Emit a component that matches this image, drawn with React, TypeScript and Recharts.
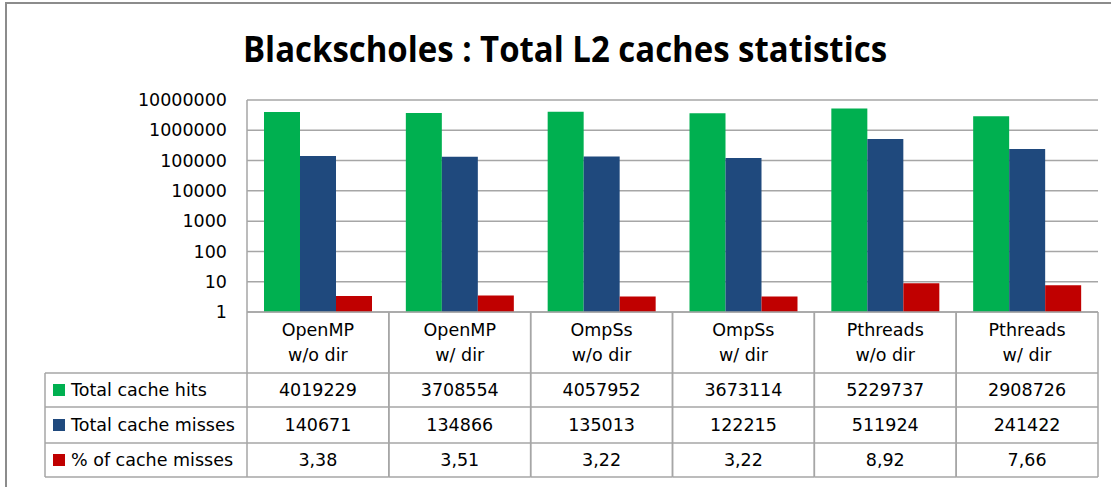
import React from 'react';
import { BarChart, Bar, XAxis, YAxis, CartesianGrid } from 'recharts';

const catLine1 = ['OpenMP', 'OpenMP', 'OmpSs', 'OmpSs', 'Pthreads', 'Pthreads'];
const catLine2 = ['w/o dir', 'w/ dir', 'w/o dir', 'w/ dir', 'w/o dir', 'w/ dir'];
const totalHits = [4019229, 3708554, 4057952, 3673114, 5229737, 2908726];
const totalMisses = [140671, 134866, 135013, 122215, 511924, 241422];
const pctMisses = [3.38, 3.51, 3.22, 3.22, 8.92, 7.66];
const yTicks = [1, 10, 100, 1000, 10000, 100000, 1000000, 10000000];
const seriesNames = ['Total cache hits', 'Total cache misses', '% of cache misses'];
const seriesColors = ['#00B050', '#1F497D', '#C00000'];
const title = 'Blackscholes : Total L2 caches statistics';

const data = catLine1.map((c, i) => ({
  cat: c + ' ' + catLine2[i],
  hits: totalHits[i],
  misses: totalMisses[i],
  pct: pctMisses[i],
}));

const fmtPct = (v: number) => v.toFixed(2).replace('.', ',');

const W = 1111;
const H = 487;
const PLOT_LEFT = 247;
const PLOT_RIGHT = 1098;
const PLOT_TOP = 100;
const PLOT_BOTTOM = 312;
const COL_W = (PLOT_RIGHT - PLOT_LEFT) / catLine1.length;
const ROW_Y = [373, 407, 443, 477];
const LINE = '#a6a6a6';
const FONT = 'DejaVu Sans, Verdana, sans-serif';
const FS = 17.5;

const TableTick = (props: any) => {
  const { x, y, index } = props;
  const half = COL_W / 2;
  const rowVals = [String(totalHits[index]), String(totalMisses[index]), fmtPct(pctMisses[index])];
  const yy = ROW_Y.map((r) => r - PLOT_BOTTOM + y);
  return (
    <g>
      <line x1={x - half} x2={x - half} y1={y} y2={yy[3]} stroke={LINE} strokeWidth={1.5} />
      <line x1={x + half} x2={x + half} y1={y} y2={yy[3]} stroke={LINE} strokeWidth={1.5} />
      {yy.map((r, k) => (
        <line key={k} x1={x - half} x2={x + half} y1={r} y2={r} stroke={LINE} strokeWidth={1.5} />
      ))}
      <text x={x} y={y + 18} dy="0.355em" textAnchor="middle" fontSize={FS} fontFamily={FONT} fill="#000">
        {catLine1[index]}
      </text>
      <text x={x} y={y + 43} dy="0.355em" textAnchor="middle" fontSize={FS} fontFamily={FONT} fill="#000">
        {catLine2[index]}
      </text>
      {rowVals.map((v, k) => (
        <text key={k} x={x} y={(yy[k] + yy[k + 1]) / 2} dy="0.355em" textAnchor="middle" fontSize={FS} fontFamily={FONT} fill="#000">
          {v}
        </text>
      ))}
    </g>
  );
};

export default function App() {
  return (
    <div style={{ position: 'absolute', left: 0, top: 0, width: W, height: H, background: '#fff', overflow: 'hidden' }}>
      <div style={{ position: 'absolute', left: 0, top: 0 }}>
        <BarChart
          width={W}
          height={H}
          data={data}
          margin={{ top: PLOT_TOP, right: W - PLOT_RIGHT, bottom: 0, left: PLOT_LEFT - 100 }}
          barCategoryGap={17}
          barGap={0}
        >
          <CartesianGrid horizontal={true} vertical={false} stroke={LINE} strokeWidth={1.5} strokeDasharray="" />
          <XAxis
            dataKey="cat"
            height={H - PLOT_BOTTOM}
            tickLine={false}
            tickSize={0}
            tickMargin={0}
            axisLine={{ stroke: LINE, strokeWidth: 1.5 }}
            interval={0}
            tick={<TableTick />}
          />
          <YAxis
            type="number"
            scale="log"
            domain={[1, 10000000]}
            allowDataOverflow
            ticks={yTicks}
            interval={0}
            width={100}
            tickLine={false}
            tickSize={0}
            tickMargin={20}
            axisLine={{ stroke: LINE, strokeWidth: 1.5 }}
            tick={{ fontSize: FS, fill: '#000', fontFamily: FONT }}
            tickFormatter={(v: number) => String(v)}
          />
          <Bar dataKey="hits" name={seriesNames[0]} fill={seriesColors[0]} isAnimationActive={false} />
          <Bar dataKey="misses" name={seriesNames[1]} fill={seriesColors[1]} isAnimationActive={false} />
          <Bar dataKey="pct" name={seriesNames[2]} fill={seriesColors[2]} isAnimationActive={false} />
        </BarChart>
      </div>
      <svg width={W} height={H} style={{ position: 'absolute', left: 0, top: 0, pointerEvents: 'none' }}>
        <line x1={6} x2={6} y1={2} y2={H} stroke="#8c8c8c" strokeWidth={2} />
        <line x1={5} x2={W} y1={3} y2={3} stroke="#8c8c8c" strokeWidth={2} />
        <text x={565} y={62} textAnchor="middle" fontFamily="Open Sans, sans-serif" fontWeight={700} fontSize={36} textLength={644} lengthAdjust="spacingAndGlyphs" fill="#000">
          {title}
        </text>
        <line x1={45} x2={45} y1={ROW_Y[0]} y2={ROW_Y[3]} stroke={LINE} strokeWidth={1.5} />
        {ROW_Y.map((r, k) => (
          <line key={k} x1={45} x2={PLOT_LEFT} y1={r} y2={r} stroke={LINE} strokeWidth={1.5} />
        ))}
        {seriesNames.map((n, k) => {
          const cy = (ROW_Y[k] + ROW_Y[k + 1]) / 2;
          return (
            <g key={n}>
              <rect x={53} y={cy - 6} width={12} height={12} fill={seriesColors[k]} />
              <text x={71} y={cy} dy="0.355em" fontSize={FS} fontFamily={FONT} fill="#000">
                {n}
              </text>
            </g>
          );
        })}
      </svg>
    </div>
  );
}
